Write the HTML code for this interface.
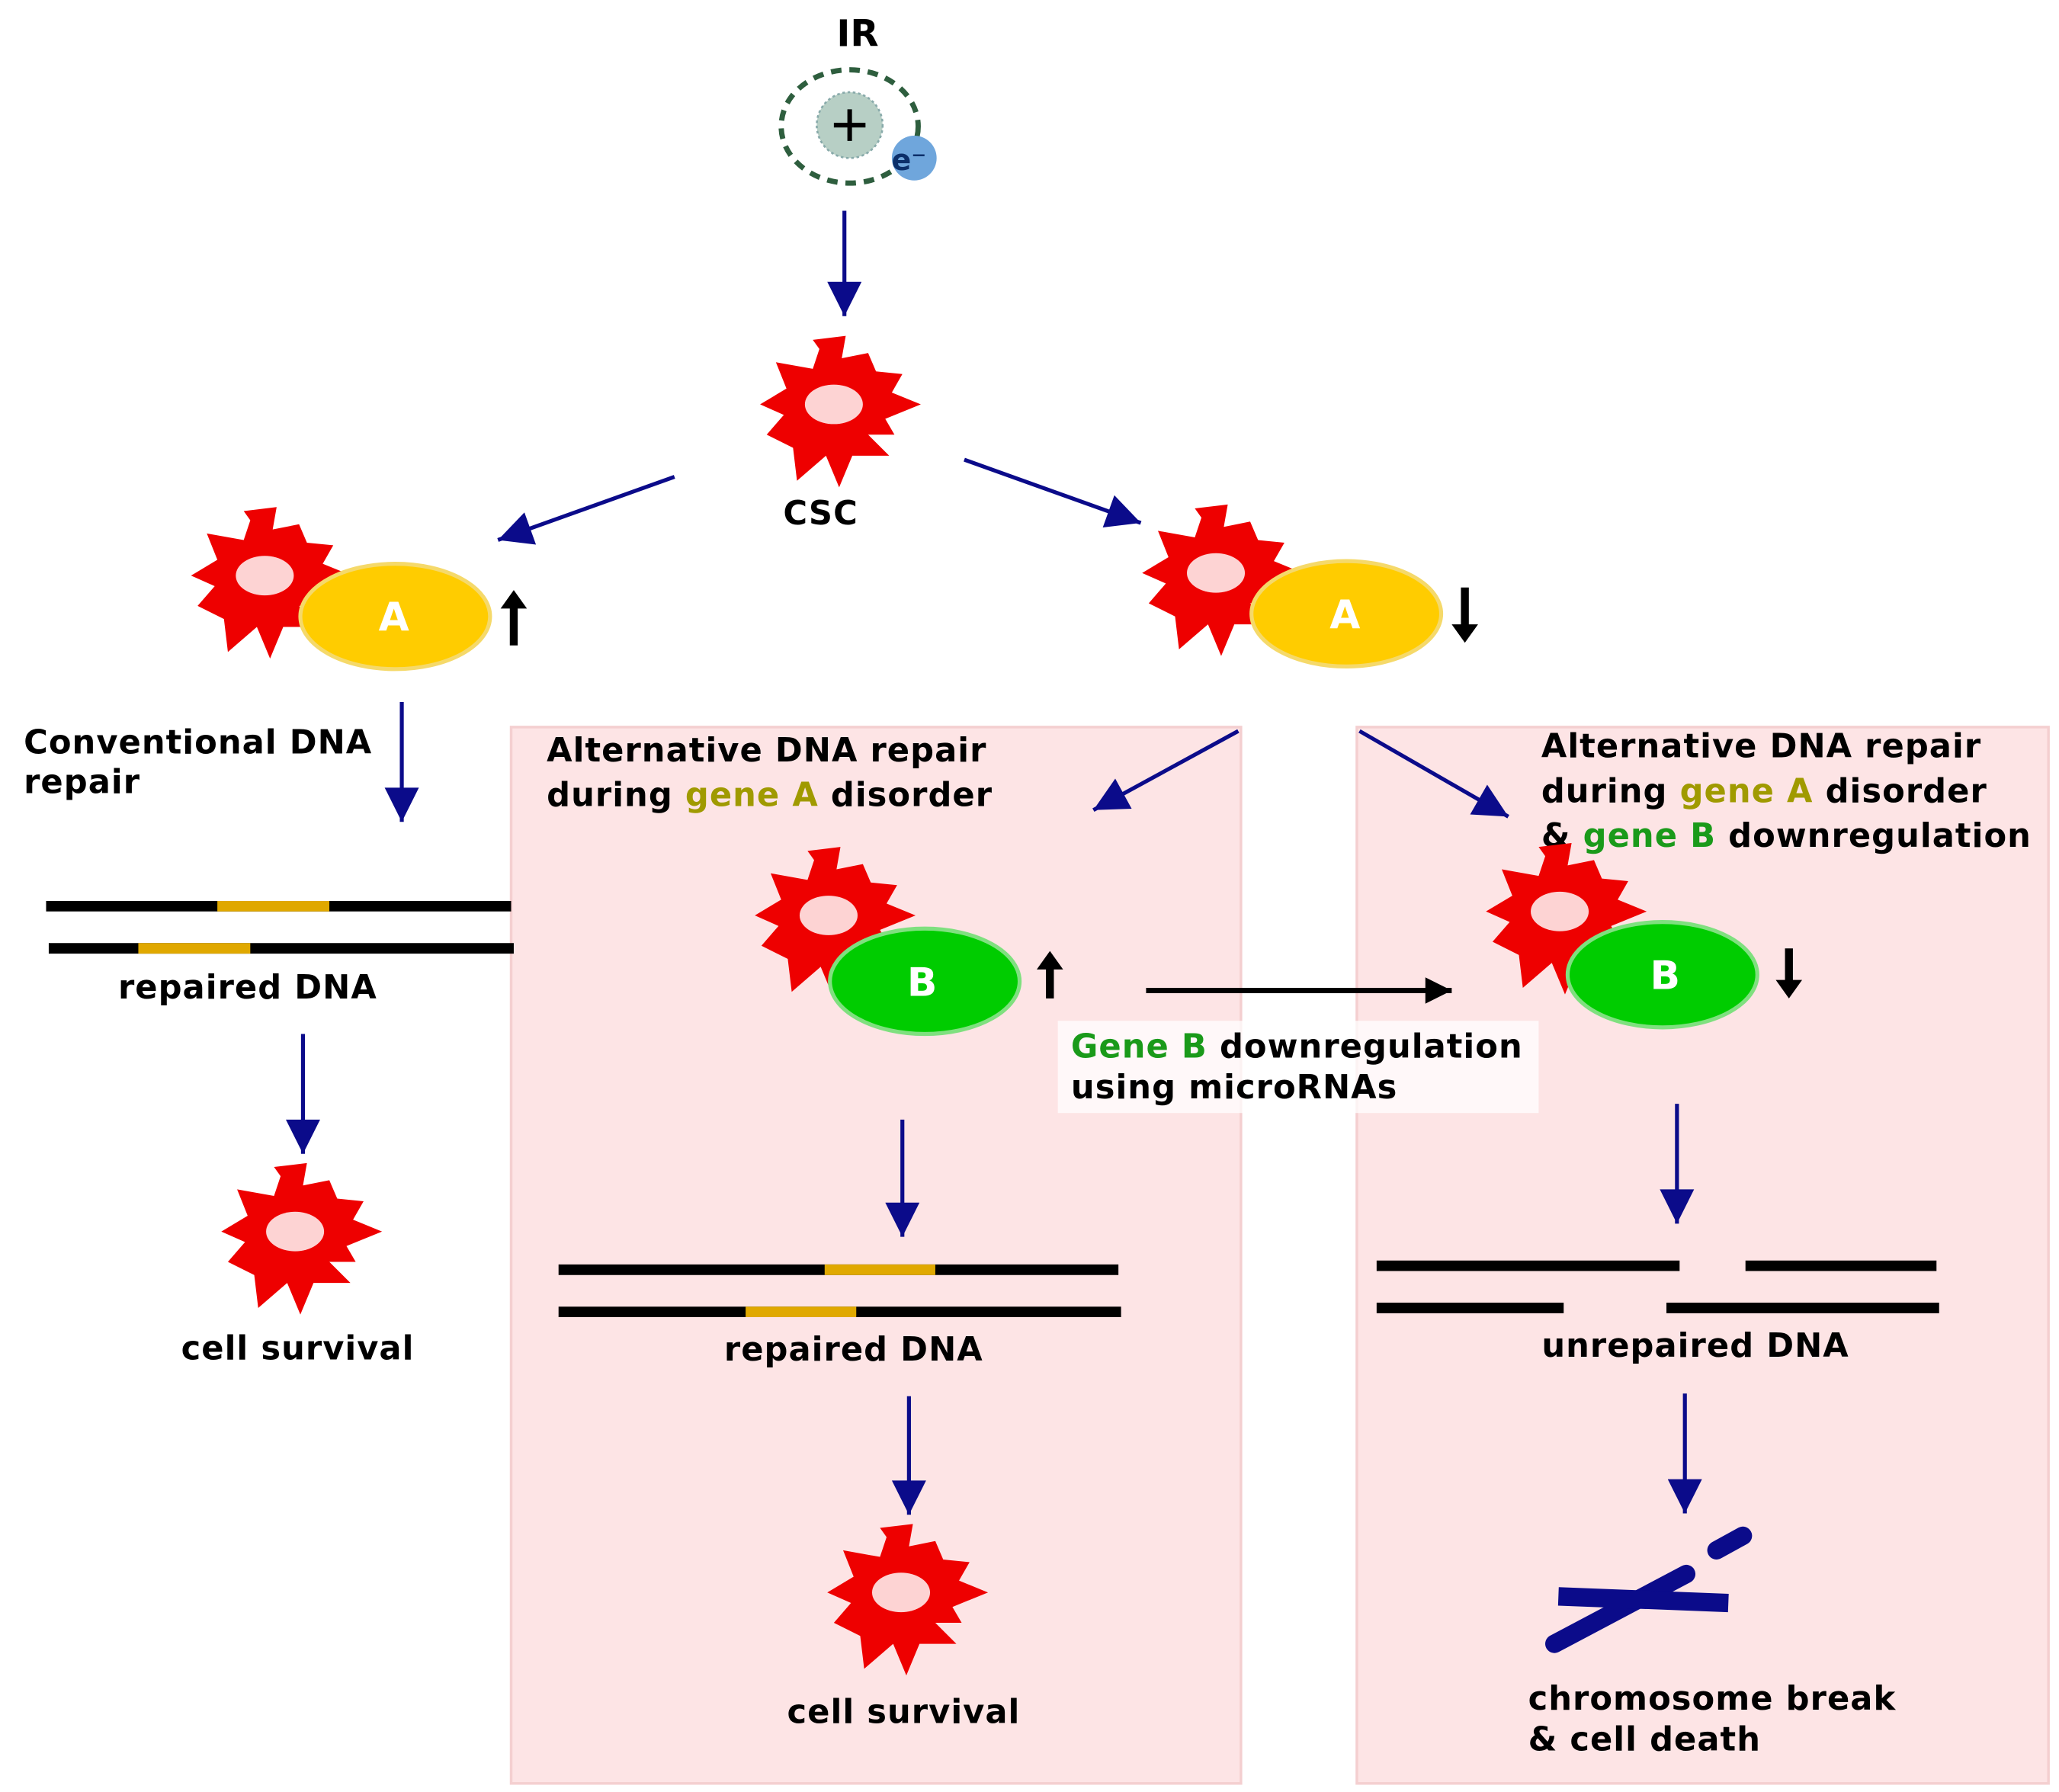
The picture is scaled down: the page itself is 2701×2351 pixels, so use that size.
<!DOCTYPE html>
<html><head><meta charset="utf-8"><style>
html,body{margin:0;padding:0;background:#fff}
svg{display:block}
text{font-family:"DejaVu Sans","Liberation Sans",sans-serif;font-weight:bold}
.t{font-size:25px;letter-spacing:0.6px}
</style></head><body>
<svg width="2701" height="2351" viewBox="0 0 1563 1360.5" preserveAspectRatio="none" xmlns="http://www.w3.org/2000/svg">
<defs>
<marker id="nv" viewBox="0 0 10 10" refX="10" refY="5" markerWidth="30" markerHeight="26" markerUnits="userSpaceOnUse" orient="auto">
<path d="M0,0 L10,5 L0,10 z" fill="#0b0b8a"/></marker>
<marker id="bk" viewBox="0 0 10 10" refX="10" refY="5" markerWidth="24" markerHeight="20" markerUnits="userSpaceOnUse" orient="auto">
<path d="M0,0 L10,5 L0,10 z" fill="#000"/></marker>
<g id="cell">
<polygon fill="#ee0000" points="-20,-52 5,-55 2,-38 22,-42 28,-28 48,-26 40,-12 62,-3 35,8 42,20 22,20 38,36 10,36 0,60 -10,36 -32,55 -35,30 -55,20 -42,5 -60,-3 -40,-15 -48,-35 -20,-30 -15,-45"/>
<ellipse cx="-4" cy="-3" rx="22" ry="15" fill="#fdd3d3"/>
</g>
</defs>
<rect x="388" y="552" width="554" height="802" fill="#fde4e5" stroke="#f4cfd0" stroke-width="2"/>
<rect x="1030" y="552" width="525" height="802" fill="#fde4e5" stroke="#f4cfd0" stroke-width="2"/>

<text x="651" y="35" font-size="28" text-anchor="middle">IR</text>
<ellipse cx="645" cy="96" rx="52" ry="43" fill="none" stroke="#2e5e3e" stroke-width="4" stroke-dasharray="8,6"/>
<circle cx="645" cy="95" r="25" fill="#b7cfc5" stroke="#8aa" stroke-width="1.5" stroke-dasharray="2,2"/>
<path d="M633,95 H657 M645,83 V107" stroke="#000" stroke-width="3.5"/>
<circle cx="694" cy="120" r="17" fill="#6fa6dc"/>
<text x="690" y="129" font-size="22" text-anchor="middle" fill="#0c2f6a">e⁻</text>

<g stroke="#0b0b8a" stroke-width="3" fill="none" marker-end="url(#nv)">
<line x1="641" y1="160" x2="641" y2="240"/>
<line x1="512" y1="362" x2="378" y2="410"/>
<line x1="732" y1="349" x2="866" y2="397"/>
<line x1="305" y1="533" x2="305" y2="624"/>
<line x1="940" y1="555" x2="830" y2="615"/>
<line x1="1032" y1="555" x2="1145" y2="620"/>
<line x1="230" y1="785" x2="230" y2="876"/>
<line x1="685" y1="850" x2="685" y2="939"/>
<line x1="690" y1="1060" x2="690" y2="1150"/>
<line x1="1273" y1="838" x2="1273" y2="929"/>
<line x1="1279" y1="1058" x2="1279" y2="1149"/>
</g>

<use href="#cell" x="637" y="310"/>
<text x="623" y="398" class="t" text-anchor="middle">CSC</text>

<use href="#cell" x="205" y="440"/>
<ellipse cx="300" cy="468" rx="72" ry="40" fill="#ffcc00" stroke="#f5d96a" stroke-width="3"/>
<text x="299" y="479" font-size="30" fill="#fff" text-anchor="middle">A</text>
<path d="M390,448 L380,462 H387 V490 H393 V462 H400 Z" fill="#000"/>

<use href="#cell" x="927" y="438"/>
<ellipse cx="1022" cy="466" rx="72" ry="40" fill="#ffcc00" stroke="#f5d96a" stroke-width="3"/>
<text x="1021" y="477" font-size="30" fill="#fff" text-anchor="middle">A</text>
<path d="M1112,488 L1102,474 H1109 V446 H1115 V474 H1122 Z" fill="#000"/>

<text x="18" y="572" class="t">Conventional DNA</text>
<text x="18" y="602" class="t">repair</text>
<line x1="35" y1="688" x2="388" y2="688" stroke="#000" stroke-width="8"/>
<line x1="165" y1="688" x2="250" y2="688" stroke="#e0a800" stroke-width="8"/>
<line x1="37" y1="720" x2="390" y2="720" stroke="#000" stroke-width="8"/>
<line x1="105" y1="720" x2="190" y2="720" stroke="#e0a800" stroke-width="8"/>
<text x="188" y="758" class="t" text-anchor="middle">repaired DNA</text>
<use href="#cell" x="228" y="938"/>
<text x="226" y="1032" class="t" text-anchor="middle">cell survival</text>

<text x="415" y="578" class="t">Alternative DNA repair</text>
<text x="415" y="612" class="t">during <tspan fill="#a09a00">gene A</tspan> disorder</text>
<use href="#cell" x="633" y="698"/>
<ellipse cx="702" cy="745" rx="72" ry="40" fill="#00cc00" stroke="#7fe07f" stroke-width="3"/>
<text x="700" y="756" font-size="30" fill="#fff" text-anchor="middle">B</text>
<path d="M797,722 L787,736 H794 V758 H800 V736 H807 Z" fill="#000"/>
<line x1="424" y1="964" x2="849" y2="964" stroke="#000" stroke-width="8"/>
<line x1="626" y1="964" x2="710" y2="964" stroke="#e0a800" stroke-width="8"/>
<line x1="424" y1="996" x2="851" y2="996" stroke="#000" stroke-width="8"/>
<line x1="566" y1="996" x2="650" y2="996" stroke="#e0a800" stroke-width="8"/>
<text x="648" y="1033" class="t" text-anchor="middle">repaired DNA</text>
<use href="#cell" x="688" y="1212"/>
<text x="686" y="1308" class="t" text-anchor="middle">cell survival</text>

<line x1="870" y1="752" x2="1102" y2="752" stroke="#000" stroke-width="4" marker-end="url(#bk)"/>
<rect x="803" y="775" width="365" height="70" fill="#fff" fill-opacity="0.75"/>
<text x="813" y="803" class="t"><tspan fill="#1a9a1a">Gene B</tspan> downregulation</text>
<text x="813" y="834" class="t">using microRNAs</text>

<text x="1170" y="575" class="t">Alternative DNA repair</text>
<text x="1170" y="609" class="t">during <tspan fill="#a09a00">gene A</tspan> disorder</text>
<text x="1170" y="643" class="t">&amp; <tspan fill="#1a9a1a">gene B</tspan> downregulation</text>
<use href="#cell" x="1188" y="695"/>
<ellipse cx="1262" cy="740" rx="72" ry="40" fill="#00cc00" stroke="#7fe07f" stroke-width="3"/>
<text x="1264" y="751" font-size="30" fill="#fff" text-anchor="middle">B</text>
<path d="M1358,758 L1348,744 H1355 V720 H1361 V744 H1368 Z" fill="#000"/>
<g stroke="#000" stroke-width="8">
<line x1="1045" y1="961" x2="1275" y2="961"/>
<line x1="1325" y1="961" x2="1470" y2="961"/>
<line x1="1045" y1="993" x2="1187" y2="993"/>
<line x1="1265" y1="993" x2="1472" y2="993"/>
</g>
<text x="1287" y="1030" class="t" text-anchor="middle">unrepaired DNA</text>
<g stroke="#0b0b8a" stroke-width="14" stroke-linecap="round">
<line x1="1180" y1="1248" x2="1280" y2="1195"/>
<line x1="1303" y1="1177" x2="1323" y2="1166"/>
</g>
<line x1="1183" y1="1212" x2="1312" y2="1217" stroke="#0b0b8a" stroke-width="14"/>
<text x="1160" y="1298" class="t">chromosome break</text>
<text x="1160" y="1329" class="t">&amp; cell death</text>
</svg>
</body></html>
